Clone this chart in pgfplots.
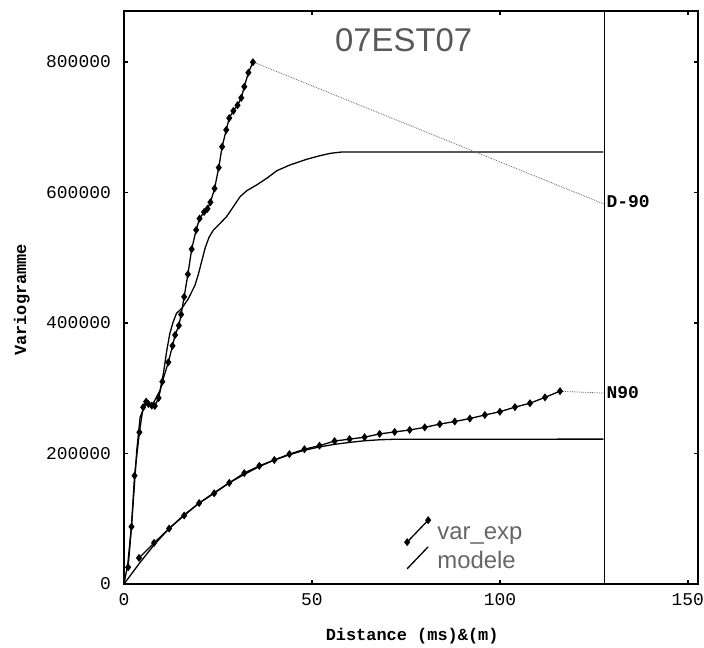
\documentclass[border=0pt]{standalone}
\usepackage{pgfplots}
\pgfplotsset{compat=1.18}
\usepackage{fontspec}
\setmainfont{Liberation Sans}
\setmonofont{Liberation Mono}
\pgfplotsset{diaglegend/.style={legend image code/.code={\draw[##1] plot coordinates {(0bp,-8bp) (21bp,14bp)};}}}
\begin{document}
\begin{tikzpicture}
\begin{axis}[
  scale only axis, width=574bp, height=573bp,
  xmin=0, xmax=152.7, ymin=0, ymax=878000,
  axis line style={line width=1.6bp},
  tick style={line width=1.4bp, black},
  major tick length=4bp, tick align=inside,
  xtick={0,50,100,150}, xticklabels={0,50,100,150},
  ytick={0,200000,400000,600000,800000},
  yticklabels={0,200000,400000,600000,800000},
  scaled y ticks=false,
  tick label style={font=\ttfamily\fontsize{18}{20}\selectfont},
  yticklabel style={inner sep=0pt, xshift=-13bp},
  xticklabel style={inner sep=0pt, yshift=-9bp},
  xlabel={Distance (ms)\&(m)},
  ylabel={Variogramme},
  label style={font=\ttfamily\bfseries\fontsize{17}{19}\selectfont},
  xlabel style={at={(axis description cs:0.502,-0.091)}, anchor=center},
  ylabel style={at={(axis description cs:-0.178,0.496)}, anchor=center},
  clip=false,
  legend style={at={(axis description cs:0.489,0.117)}, anchor=north west, draw=none, fill=none,
     font=\fontsize{24}{26}\selectfont\color{black!60}, row sep=1bp, inner sep=0pt,
     /tikz/every odd column/.append style={column sep=5bp}},
  legend cell align=left,
]
% D-90 experimental
\addplot[black, line width=1.3bp, mark=diamond*, mark size=3bp, diaglegend]
coordinates {
(1.1,25600) (2.0,87800) (2.8,166000) (4.1,232500) (5.1,270800) (5.9,279400)
(6.5,275900) (7.4,273300) (8.2,272800) (9.2,285000) (10.2,310000) (11.8,339800)
(12.9,365000) (13.6,381600) (14.6,396000) (15.2,413000) (16.0,440000) (17.0,474600)
(18.0,513000) (19.2,542500) (20.1,560000) (21.3,570000) (22.2,575000) (23.0,585000)
(24.1,606000) (25.2,638000) (26.1,670000) (27.2,695800) (28.0,714000) (29.1,725000)
(30.2,733600) (31.2,745000) (32.0,762000) (33.1,783600) (34.3,799500)
};
\addlegendentry{var\_exp}
% D-90 model
\addplot[black, line width=1.3bp, no markers, diaglegend]
coordinates {
(0,0) (1,30000) (2,90000) (3,170000) (3.4,205000) (4.3,256000) (5.6,274000) (7.8,277000)
(9.6,297000) (10.5,323000) (11.4,358600) (12.2,384000) (13.1,402000) (14,415000)
(15.4,422500) (17.1,437000) (18.9,458000) (19.8,475000) (20.7,495000) (21.6,515000)
(22.6,531000) (23.8,542500) (25.6,552800) (27.3,563000) (29.1,578200) (30.9,593600)
(32.7,602800) (35.3,611500) (38,621800) (40.7,633400) (44.2,642200) (48.6,650800)
(52.2,656400) (55,660000) (58,662000) (127.5,662000)
};
\addlegendentry{modele}
% N90 experimental
\addplot[black, line width=1.3bp, mark=diamond*, mark size=3bp, forget plot]
coordinates {
(4,40000) (8,63000) (12,85000) (16,105000) (20,124000) (24,139000) (28,155000)
(32,170000) (36,181000) (40,190000) (44,199000) (48,206500) (52,212000) (56,219000)
(60,222000) (64,225000) (68,230000) (72,233000) (76,236000) (80,240000) (84,245000)
(88,249000) (92,253500) (96,259000) (100,264000) (104,271000) (108,277000)
(112,286000) (116,295500)
};
% N90 model
\addplot[black, line width=1.3bp, no markers, forget plot]
coordinates {
(0,0) (4,31000) (8,60000) (12,85000) (16,106000) (20,124000) (24,140000) (28,155000)
(32,168000) (36,180000) (40,190000) (44,198000) (48,205000) (52,210000) (56,214000)
(60,217000) (64,219500) (68,221000) (72,221800) (127.5,222000)
};
% dotted connectors
\addplot[black!60, densely dotted, line width=0.8bp, forget plot]
coordinates {(34.3,800000) (127.8,582000)};
\addplot[black!60, densely dotted, line width=0.8bp, forget plot]
coordinates {(115.9,295300) (127.8,292500)};
% vertical line
\addplot[black, line width=0.8bp, forget plot]
coordinates {(127.8,0) (127.8,878000)};
\node[anchor=west, inner sep=0pt, font=\ttfamily\bfseries\fontsize{18}{20}\selectfont]
  at (axis cs:127.8,585500) {\hspace{2bp}D-90};
\node[anchor=west, inner sep=0pt, font=\ttfamily\bfseries\fontsize{18}{20}\selectfont]
  at (axis cs:127.8,293200) {\hspace{2bp}N90};
\node[font=\fontsize{33}{36}\selectfont, text=black!65] at (axis cs:74.4,833000) {07EST07};
\coordinate (O) at (rel axis cs:0,0);
\end{axis}
\path (O) ++(-124bp,-62bp) rectangle ++(704bp,646bp);
\end{tikzpicture}
\end{document}
